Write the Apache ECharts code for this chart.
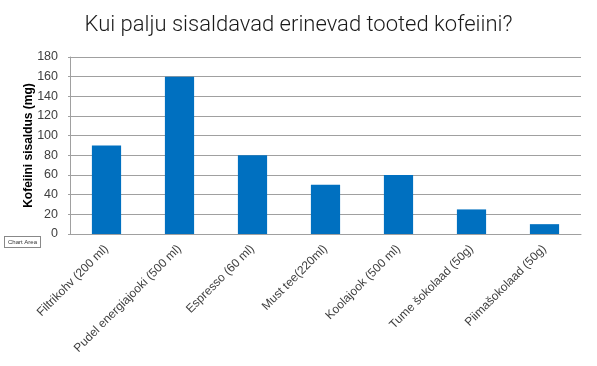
<!DOCTYPE html>
<html><head><meta charset="utf-8">
<script src="https://cdn.jsdelivr.net/npm/echarts@6/dist/echarts.min.js"></script>
<style>html,body{margin:0;padding:0;background:#fff}#c{width:597px;height:366px}</style>
</head><body><div id="c"></div>
<script>
const categories = ["Filtrikohv (200 ml)","Pudel energiajooki (500 ml)","Espresso (60 ml)","Must tee(220ml)","Koolajook (500 ml)","Tume šokolaad (50g)","Piimašokolaad (50g)"];
const caffeine = [90,160,80,50,60,25,10];
const title = "Kui palju sisaldavad erinevad tooted kofeiini?";
const yName = "Kofeiini sisaldus (mg)";

const chart = echarts.init(document.getElementById('c'), null, {renderer:'canvas'});
chart.setOption({
  animation:false,
  title:{text:title,left:'center',top:9,textStyle:{fontFamily:'Roboto',fontWeight:300,fontSize:22,color:'#1a1a1a'}},
  grid:{left:70,right:16,top:57,bottom:132,containLabel:false},
  xAxis:{type:'category',data:categories,
    axisLine:{lineStyle:{color:'#a0a0a0'}},axisTick:{show:false},
    axisLabel:{rotate:45,interval:0,margin:13,fontFamily:'Liberation Sans',fontSize:12,color:'#404040'}},
  yAxis:{type:'value',min:0,max:180,interval:20,name:yName,nameLocation:'middle',nameGap:35,nameMoveOverlap:false,
    nameTextStyle:{fontFamily:'Liberation Sans',fontSize:12,fontWeight:'bold',color:'#000'},
    axisLine:{show:true,lineStyle:{color:'#a0a0a0'}},axisTick:{show:true,length:2,lineStyle:{color:'#a0a0a0'}},
    splitLine:{lineStyle:{color:'#a0a0a0'}},
    axisLabel:{fontFamily:'Liberation Sans',fontSize:12.5,color:'#404040',margin:12}},
  series:[{type:'bar',data:caffeine,barWidth:'40%',itemStyle:{color:'#0070c0'}}],
  graphic:[{type:'text',left:4,top:236,style:{text:'Chart Area',fontSize:6,fontFamily:'Liberation Sans',fill:'#333',backgroundColor:'#fff',borderColor:'#888',borderWidth:1,padding:[2,3]}}]
});
</script></body></html>
